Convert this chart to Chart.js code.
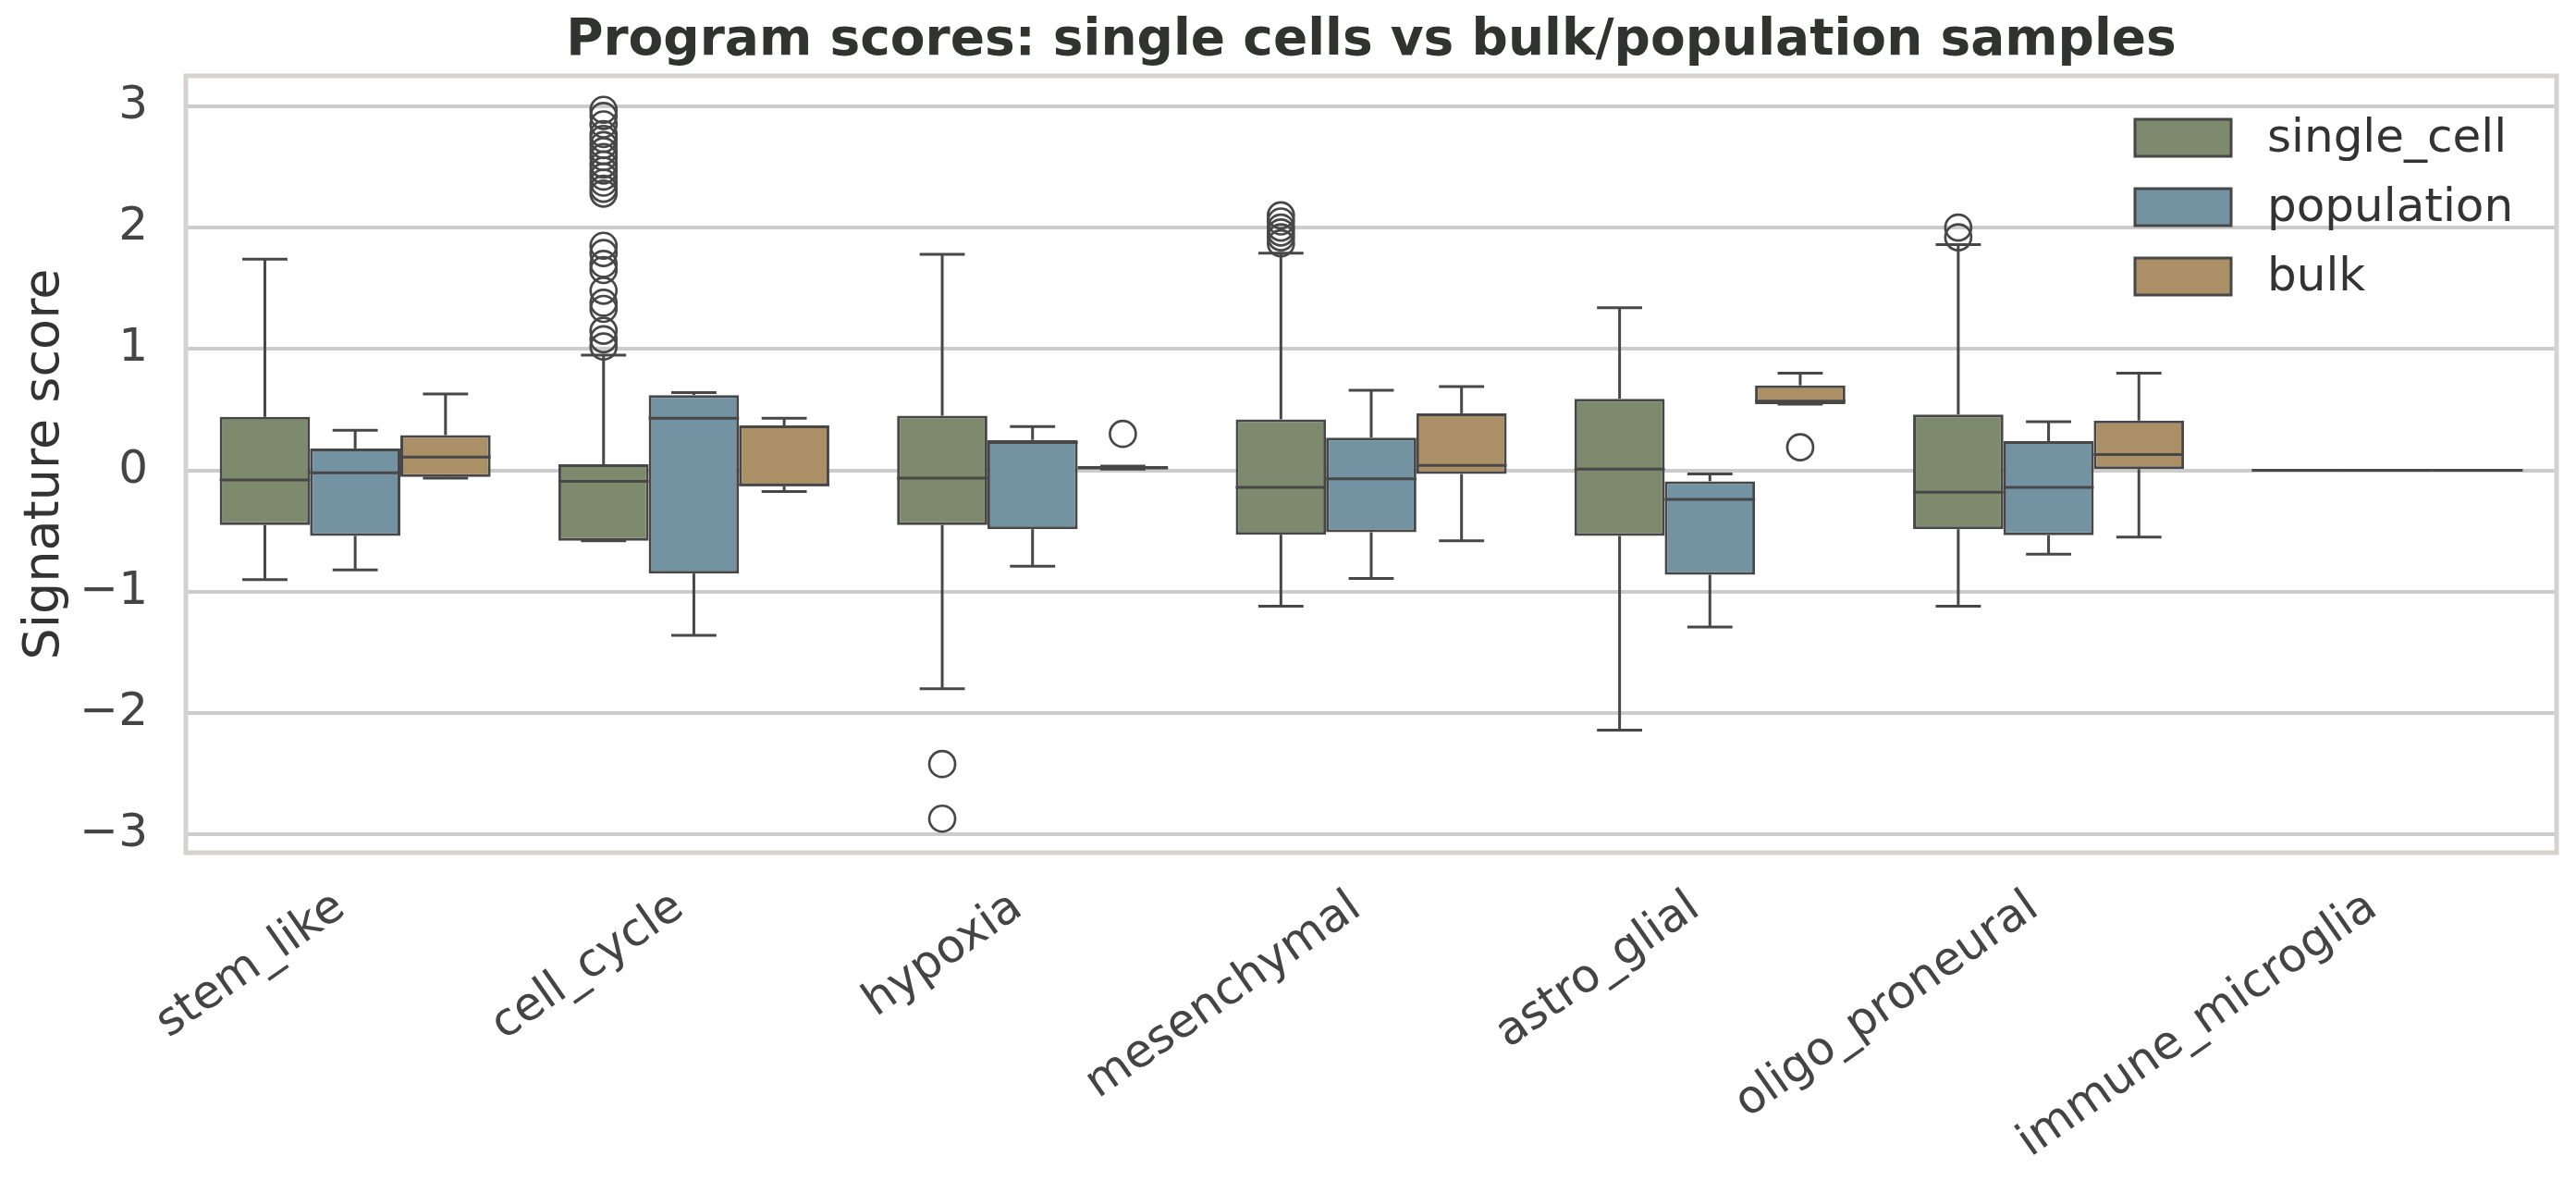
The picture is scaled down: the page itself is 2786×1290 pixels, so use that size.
<!DOCTYPE html>
<html>
<head>
<meta charset="utf-8">
<script src="https://cdn.jsdelivr.net/npm/chart.js@4.4.1/dist/chart.umd.min.js"></script>
<style>
  html, body { margin: 0; padding: 0; background: #ffffff; }
  #chart { display: block; }
</style>
</head>
<body>
<canvas id="chart" width="2786" height="1290"></canvas>
<script>
const categories = ['stem_like', 'cell_cycle', 'hypoxia', 'mesenchymal', 'astro_glial', 'oligo_proneural', 'immune_microglia'];
const seriesNames = ['single_cell', 'population', 'bulk'];
const seriesColors = ['#7d8a6e', '#7493a2', '#ab9067'];
const yTickValues = [-3, -2, -1, 0, 1, 2, 3];

// single_cell
const scLow = [-0.90, -0.58, -1.80, -1.12, -2.14, -1.12, 0];
const scQ1 = [-0.45, -0.58, -0.45, -0.53, -0.54, -0.485, 0];
const scMed = [-0.08, -0.09, -0.065, -0.14, 0.01, -0.18, 0];
const scQ3 = [0.44, 0.05, 0.45, 0.42, 0.59, 0.46, 0];
const scHigh = [1.74, 0.95, 1.78, 1.79, 1.34, 1.86, 0];
const scOut = [
  [],
  [2.97, 2.92, 2.85, 2.77, 2.73, 2.68, 2.63, 2.58, 2.52, 2.47, 2.42, 2.37, 2.32, 2.28,
   1.85, 1.79, 1.70, 1.65, 1.48, 1.38, 1.33, 1.15, 1.08, 1.02],
  [-2.42, -2.87],
  [2.10, 2.05, 2.00, 1.96, 1.92, 1.87],
  [],
  [2.00, 1.92],
  []
];

// population
const popLow = [-0.82, -1.36, -0.79, -0.89, -1.29, -0.69, 0];
const popQ1 = [-0.54, -0.85, -0.485, -0.51, -0.86, -0.535, 0];
const popMed = [-0.02, 0.43, 0.23, -0.07, -0.24, -0.14, 0];
const popQ3 = [0.18, 0.62, 0.25, 0.27, -0.09, 0.24, 0];
const popHigh = [0.33, 0.64, 0.36, 0.66, -0.03, 0.40, 0];
const popOut = [[], [], [], [], [], [], []];

// bulk
const bkLow = [-0.065, -0.175, 0.01, -0.58, 0.545, -0.55, 0];
const bkQ1 = [-0.055, -0.13, 0.01, -0.03, 0.545, 0.01, 0];
const bkMed = [0.11, -0.12, 0.02, 0.04, 0.57, 0.13, 0];
const bkQ3 = [0.29, 0.37, 0.035, 0.47, 0.70, 0.41, 0];
const bkHigh = [0.63, 0.43, 0.035, 0.69, 0.80, 0.80, 0];
const bkOut = [[], [], [0.30], [], [0.19], [], []];

const series = [
  { low: scLow, q1: scQ1, med: scMed, q3: scQ3, high: scHigh, out: scOut },
  { low: popLow, q1: popQ1, med: popMed, q3: popQ3, high: popHigh, out: popOut },
  { low: bkLow, q1: bkQ1, med: bkMed, q3: bkQ3, high: bkHigh, out: bkOut }
];

const EDGE = '#474747';
const FONT = 'DejaVu Sans';

function line(ctx, x1, y1, x2, y2) {
  ctx.beginPath();
  ctx.moveTo(x1, y1);
  ctx.lineTo(x2, y2);
  ctx.stroke();
}

// whiskers, medians, outliers, frame and legend
const boxPlugin = {
  id: 'boxDetails',
  beforeDatasetsDraw(chart) {
    const { ctx, chartArea } = chart;
    ctx.save();
    ctx.strokeStyle = '#d6d3ce';
    ctx.lineWidth = 5;
    ctx.strokeRect(chartArea.left, chartArea.top, chartArea.right - chartArea.left, chartArea.bottom - chartArea.top);
    ctx.restore();
  },
  afterDatasetsDraw(chart) {
    const { ctx } = chart;
    const yScale = chart.scales.y;
    ctx.save();
    ctx.strokeStyle = EDGE;
    series.forEach((s, di) => {
      const meta = chart.getDatasetMeta(di);
      meta.data.forEach((bar, i) => {
        const cx = bar.x;
        const half = bar.width / 2;
        const yHigh = yScale.getPixelForValue(s.high[i]);
        const yLow = yScale.getPixelForValue(s.low[i]);
        ctx.lineWidth = 3;
        line(ctx, cx, yScale.getPixelForValue(s.q3[i]), cx, yHigh);
        line(ctx, cx, yScale.getPixelForValue(s.q1[i]), cx, yLow);
        line(ctx, cx - half / 2, yHigh, cx + half / 2, yHigh);
        line(ctx, cx - half / 2, yLow, cx + half / 2, yLow);
        const yMed = yScale.getPixelForValue(s.med[i]);
        line(ctx, cx - half, yMed, cx + half, yMed);
        ctx.lineWidth = 2.7;
        s.out[i].forEach(v => {
          ctx.beginPath();
          ctx.arc(cx, yScale.getPixelForValue(v), 14, 0, Math.PI * 2);
          ctx.stroke();
        });
      });
    });
    ctx.restore();
  },
  afterDraw(chart) {
    const { ctx, chartArea } = chart;
    ctx.save();
    const left = chartArea.right - 456;
    chart.data.datasets.forEach((ds, i) => {
      const cy = chartArea.top + 67 + i * 75;
      ctx.fillStyle = ds.backgroundColor;
      ctx.fillRect(left, cy - 20, 104, 40);
      ctx.strokeStyle = EDGE;
      ctx.lineWidth = 3;
      ctx.strokeRect(left, cy - 20, 104, 40);
      ctx.fillStyle = '#333333';
      ctx.font = '50px "' + FONT + '"';
      ctx.textBaseline = 'middle';
      ctx.textAlign = 'left';
      ctx.fillText(ds.label, left + 143, cy + 2);
    });
    ctx.restore();
  }
};

const datasets = series.map((s, di) => ({
  label: seriesNames[di],
  data: categories.map((c, i) => [s.q1[i], s.q3[i]]),
  backgroundColor: seriesColors[di],
  borderColor: EDGE,
  borderWidth: 3,
  borderSkipped: false,
  categoryPercentage: 0.8,
  barPercentage: 1.0
}));

new Chart(document.getElementById('chart'), {
  type: 'bar',
  data: { labels: categories, datasets: datasets },
  options: {
    responsive: false,
    devicePixelRatio: 1,
    animation: false,
    events: [],
    layout: { padding: { left: 0, right: 21, top: 0, bottom: 0 } },
    plugins: {
      legend: { display: false },
      tooltip: { enabled: false },
      title: {
        display: true,
        fullSize: false,
        text: 'Program scores: single cells vs bulk/population samples',
        color: '#313330',
        font: { family: FONT, size: 55, weight: 'bold', lineHeight: 1.2 },
        padding: { top: 12, bottom: 4 }
      }
    },
    scales: {
      x: {
        grid: { display: false, drawTicks: false },
        border: { display: false },
        ticks: {
          autoSkip: false,
          minRotation: 35,
          maxRotation: 35,
          padding: 30,
          labelOffset: -16,
          color: '#444444',
          font: { family: FONT, size: 50 }
        },
        afterFit(scale) { scale.height = 1290 - 922; }
      },
      y: {
        min: -3.15,
        max: 3.25,
        grid: { color: '#cccccc', lineWidth: 4, drawTicks: false },
        border: { display: false },
        afterBuildTicks(scale) { scale.ticks = yTickValues.map(v => ({ value: v })); },
        ticks: {
          padding: 41,
          color: '#444444',
          font: { family: FONT, size: 50 },
          callback: v => (v < 0 ? '\u2212' + Math.abs(v) : String(v))
        },
        title: {
          display: true,
          text: 'Signature score',
          color: '#333333',
          font: { family: FONT, size: 54 },
          padding: { top: 17, bottom: 0 }
        },
        afterFit(scale) { scale.width = 201; }
      }
    }
  },
  plugins: [boxPlugin]
});
</script>
</body>
</html>
